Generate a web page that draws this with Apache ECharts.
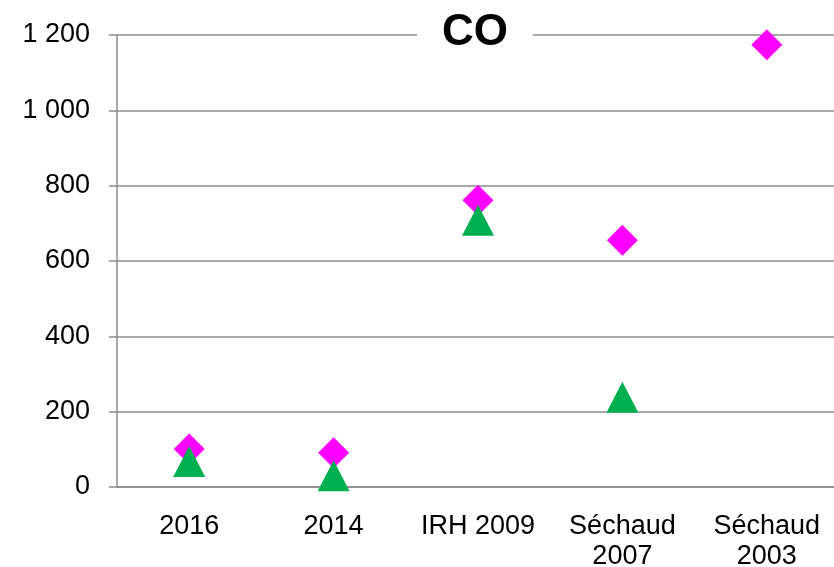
<!DOCTYPE html>
<html>
<head>
<meta charset="utf-8">
<script src="https://cdn.jsdelivr.net/npm/echarts@6/dist/echarts.min.js"></script>
<style>
  html, body { margin: 0; padding: 0; background: #fff; }
  #chart { width: 834px; height: 567px; }
</style>
</head>
<body>
<div id="chart"></div>
<script>
const categories = ['2016', '2014', 'IRH 2009', 'Séchaud\n2007', 'Séchaud\n2003'];
const magentaValues = [101, 91, 761, 655, 1174];
const greenValues = [68, 30, 708, 238, '-'];
const yTicks = [0, 200, 400, 600, 800, 1000, 1200];

const chart = echarts.init(document.getElementById('chart'));

// thousands separator with a plain space, like the original
function fmt(v) {
  return String(v).replace(/\B(?=(\d{3})+(?!\d))/g, ' ');
}

chart.setOption({
  animation: false,
  backgroundColor: '#fff',
  textStyle: { fontFamily: 'Liberation Sans, Arial, sans-serif' },
  title: {
    text: 'CO',
    left: 417,
    top: 9,
    padding: [2, 25],
    backgroundColor: '#fff',
    textStyle: {
      fontSize: 44,
      fontWeight: 'bold',
      color: '#000',
      fontFamily: 'Liberation Sans, Arial, sans-serif',
    },
  },
  grid: {
    left: 117,
    top: 35,
    width: 722,
    bottom: 80,
    containLabel: false,
    outerBoundsMode: 'none',
  },
  xAxis: {
    type: 'category',
    data: categories,
    boundaryGap: true,
    axisLine: { lineStyle: { color: '#8c8c8c', width: 1.5 } },
    axisTick: { length: 8, lineStyle: { color: '#8c8c8c', width: 1.5 } },
    axisLabel: {
      fontSize: 27,
      color: '#000',
      margin: 25,
      lineHeight: 30,
      interval: 0,
    },
    splitLine: { show: false },
  },
  yAxis: {
    type: 'value',
    min: yTicks[0],
    max: yTicks[yTicks.length - 1],
    interval: 200,
    axisLine: { show: true, lineStyle: { color: '#8c8c8c', width: 1.5 } },
    axisTick: { show: true, length: 8, lineStyle: { color: '#8c8c8c', width: 1.5 } },
    axisLabel: {
      fontSize: 27,
      color: '#000',
      margin: 27,
      formatter: fmt,
    },
    splitLine: { lineStyle: { color: '#8c8c8c', width: 1.5 } },
  },
  series: [
    {
      type: 'scatter',
      symbol: 'diamond',
      symbolSize: 31,
      itemStyle: { color: '#ff00ff', opacity: 1 },
      data: magentaValues,
      z: 3,
    },
    {
      type: 'scatter',
      symbol: 'triangle',
      symbolSize: [32, 31],
      itemStyle: { color: '#00b050', opacity: 1 },
      data: greenValues,
      z: 4,
    },
  ],
});
</script>
</body>
</html>
